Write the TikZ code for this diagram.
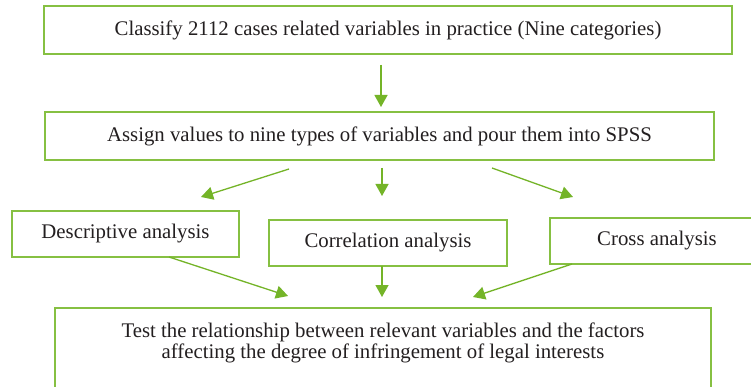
\documentclass[tikz,border=0pt]{standalone}
\usepackage{fontspec}
\setmainfont{Liberation Serif}
\usetikzlibrary{arrows.meta}
\definecolor{boxgreen}{RGB}{134,192,66}
\definecolor{arrgreen}{RGB}{116,180,40}
\definecolor{txt}{RGB}{35,31,32}
\begin{document}
\begin{tikzpicture}[x=1pt,y=-1pt,
  box/.style={draw=boxgreen, line width=1.6pt, rectangle, inner sep=0pt, text=txt, font=\fontsize{20.8}{22}\selectfont},
  arr/.style={draw=arrgreen, line width=1.3pt, -{Triangle[width=13pt,length=12pt]}},
  lbl/.style={text=txt, align=center, font=\fontsize{20.8}{21.5}\selectfont}]
\useasboundingbox (0,0) rectangle (751,387);
\clip (0,0) rectangle (751,387);
\fill[white] (0,0) rectangle (751,387);
\node[box, minimum width=688pt, minimum height=48pt] (top) at (388,30) {Classify 2112 cases related variables in practice (Nine categories)};
\node[box, minimum width=669pt, minimum height=48pt] (assign) at (379.5,136) {Assign values to nine types of variables and pour them into SPSS};
\node[box, minimum width=227pt, minimum height=46pt] (desc) at (125.5,234) {Descriptive analysis};
\node[box, minimum width=238pt, minimum height=46pt] (corr) at (388,243) {Correlation analysis};
\node[box, minimum width=214pt, minimum height=46pt] (cross) at (657,241) {Cross analysis};
\node[box, minimum width=656pt, minimum height=110pt, anchor=north] (test) at (383,307) {};
\node[lbl] (testtxt) at (383,343) {Test the relationship between relevant variables and the factors\\affecting the degree of infringement of legal interests};
% connector end points
\coordinate (c1a) at (381,65);  \coordinate (c1b) at (381,107);
\coordinate (c2a) at (289,169); \coordinate (c2b) at (201,197);
\coordinate (c3a) at (382,168); \coordinate (c3b) at (382,196);
\coordinate (c4a) at (492,168); \coordinate (c4b) at (573,197);
\coordinate (c5a) at (169,257); \coordinate (c5b) at (288,296);
\coordinate (c6a) at (382,266); \coordinate (c6b) at (382,297);
\coordinate (c7a) at (572,264); \coordinate (c7b) at (473,297);
\draw[arr] (c1a) -- (c1b);
\draw[arr] (c2a) -- (c2b);
\draw[arr] (c3a) -- (c3b);
\draw[arr] (c4a) -- (c4b);
\draw[arr] (c5a) -- (c5b);
\draw[arr] (c6a) -- (c6b);
\draw[arr] (c7a) -- (c7b);
\end{tikzpicture}
\end{document}
